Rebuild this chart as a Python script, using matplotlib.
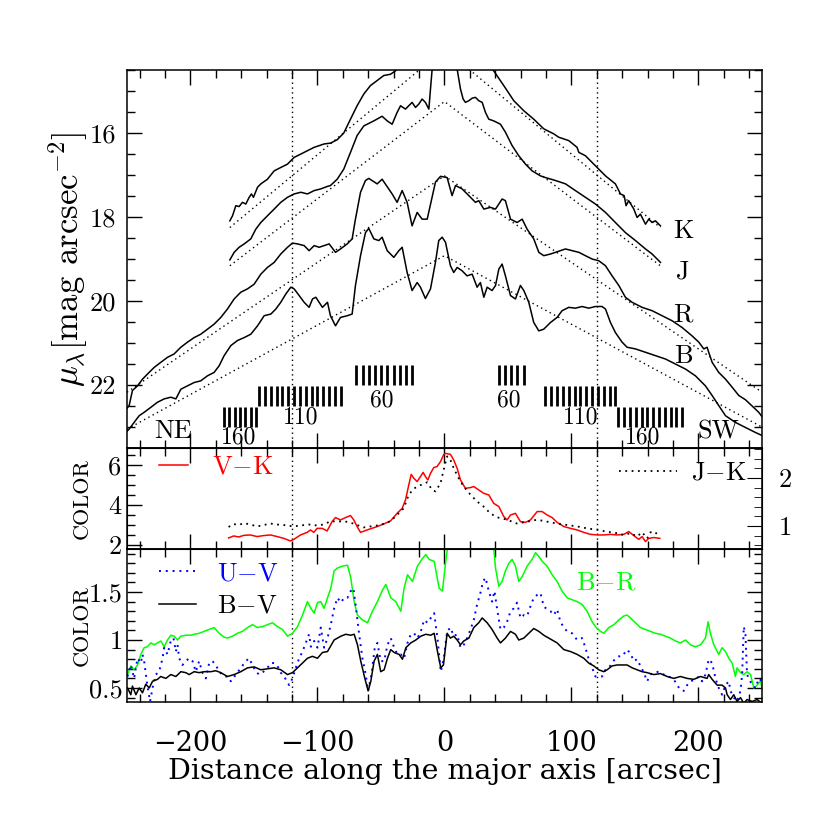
import matplotlib.pyplot as plt
from matplotlib.ticker import MultipleLocator

plt.rcParams['font.family'] = 'serif'
plt.rcParams['font.serif'] = ['cmr10']
plt.rcParams['mathtext.fontset'] = 'cm'
plt.rcParams['axes.formatter.use_mathtext'] = False

# ---- surface brightness profiles (mag arcsec^-2) ----
k_x = [-169.0, -166.9, -164.3, -161.7, -159.1, -156.4, -153.8, -152.0, -150.4, -147.2, -144.6, -139.4,
       -134.1, -128.9, -123.6, -118.4, -113.1, -107.9, -102.6, -94.8, -89.8, -84.5, -79.3, -74.0, -68.8,
       -63.5, -58.3, -53.0, -47.8, -42.5, -38.6, -30, -15, 0, 15, 30, 38.8, 46.7, 54.6, 62.5, 70.3, 78.2,
       86.1, 90.0, 97.9, 104.4, 105.8, 111.0, 118.9, 126.8, 134.6, 138.6, 141.5, 143.0, 145.1, 149.1,
       151.7, 154.3, 158.3, 160.9, 163.5, 166.1, 170.1]
k_mu = [18.09, 17.97, 17.73, 17.75, 17.65, 17.69, 17.53, 17.45, 17.53, 17.29, 17.21, 17.10,
        16.90, 16.82, 16.74, 16.58, 16.50, 16.42, 16.34, 16.26, 16.24, 16.16, 16.00, 15.67, 15.35,
        15.07, 14.87, 14.75, 14.63, 14.60, 14.52, 14.2, 13.8, 13.6, 13.8, 14.2, 14.52, 14.87, 15.23, 15.47,
        15.67, 15.90, 16.02, 16.10, 16.18, 16.34, 16.46, 16.54, 16.78, 17.02, 17.21, 17.45, 17.49, 17.73,
        17.61, 17.81, 18.01, 17.93, 18.17, 18.05, 18.13, 18.09, 18.21]

j_x = [-169.0, -165.6, -161.7, -157.7, -152.5, -148.6, -144.6, -139.4, -134.1, -128.9, -123.6, -118.4,
       -113.1, -107.9, -102.6, -97.4, -92.1, -89.8, -84.5, -79.3, -74.0, -68.8, -63.5, -55.6, -49.1,
       -45.1, -41.2, -37.3, -34.6, -30.7, -28.1, -25.5, -22.8, -20.2, -17.6, -15.0, -12.3, -11.0, -9.7,
       -5, 0, 5, 10.0, 12.6, 14.7, 16.5, 19.2, 21.8, 24.4, 27.0, 29.7, 32.3, 34.9, 38.8, 44.1, 48.0, 53.3,
       58.5, 63.8, 69.0, 75.6, 79.5, 87.4, 95.3, 103.1, 111.0, 118.9, 126.8, 134.6, 142.5, 150.4, 158.3,
       163.5, 170.1]
j_mu = [19.02, 18.84, 18.72, 18.64, 18.52, 18.29, 18.13, 17.97, 17.81, 17.65, 17.53, 17.45,
        17.41, 17.45, 17.37, 17.33, 17.27, 17.25, 17.10, 16.86, 16.46, 16.06, 15.83, 15.71, 15.60,
        15.71, 15.79, 15.51, 15.35, 15.43, 15.35, 15.27, 15.39, 15.31, 15.19, 15.27, 15.43, 14.95, 14.48,
        13.9, 13.6, 13.9, 14.48, 14.95, 15.19, 15.27, 15.23, 15.17, 15.15, 15.23, 15.27, 15.51, 15.67,
        15.71, 15.79, 15.98, 16.30, 16.54, 16.74, 16.90, 17.02, 17.06, 17.13, 17.21, 17.37, 17.53, 17.69,
        17.89, 18.13, 18.37, 18.56, 18.76, 18.88, 19.08]

r_x = [-250.0, -248.3, -245.7, -241.7, -237.8, -233.9, -228.6, -223.4, -218.1, -212.9, -207.6, -202.4,
       -197.1, -191.9, -186.6, -181.4, -176.1, -170.9, -165.6, -160.4, -155.1, -149.9, -144.6, -139.4,
       -134.1, -128.9, -123.6, -119.7, -115.7, -110.5, -106.6, -102.6, -98.7, -94.8, -90.8, -85.8, -81.9,
       -76.6, -72.7, -70.1, -66.1, -62.2, -59.6, -53.0, -49.1, -41.2, -37.3, -33.3, -29.4, -25.5, -21.5,
       -17.6, -13.6, -7.1, -3.1, 2.1, 6.0, 8.7, 13.9, 20.5, 24.4, 27.0, 31.0, 36.2, 40.2, 45.4, 48.0, 52.0,
       57.2, 61.2, 65.1, 70.3, 74.3, 78.2, 83.5, 91.3, 95.3, 100.5, 105.8, 111.0, 116.3, 121.5, 126.8,
       132.0, 137.3, 142.5, 147.8, 155.6, 163.5, 171.4, 179.3, 187.1, 195.0, 200.3, 204.2, 206.8, 208.1,
       210.8, 216.0, 221.3, 226.5, 231.8, 237.0, 242.3, 247.5, 250.0]
r_mu = [22.55, 22.49, 22.13, 22.02, 21.86, 21.74, 21.58, 21.46, 21.34, 21.26, 21.10, 20.98,
        20.87, 20.79, 20.67, 20.55, 20.39, 20.19, 19.95, 19.79, 19.71, 19.60, 19.36, 19.20,
        19.08, 18.88, 18.72, 18.62, 18.64, 18.68, 18.80, 18.68, 18.72, 18.68, 18.64, 18.84, 18.76,
        18.64, 18.52, 18.05, 17.41, 17.13, 17.08, 17.21, 17.10, 17.45, 17.65, 17.37, 17.65, 18.21, 17.89,
        18.05, 18.05, 17.17, 17.03, 17.06, 17.49, 17.25, 17.33, 17.53, 17.65, 17.61, 17.81, 17.77, 17.81,
        17.57, 17.61, 18.05, 18.13, 18.05, 18.29, 18.52, 18.84, 18.92, 18.88, 18.80, 18.76, 18.80, 18.84,
        18.92, 19.00, 19.04, 19.16, 19.40, 19.63, 19.91, 20.03, 20.15, 20.23, 20.35, 20.47, 20.63, 20.83,
        20.98, 21.14, 21.10, 21.22, 21.46, 21.70, 21.86, 22.05, 22.25, 22.35, 22.50, 22.65, 22.75]

b_x = [-250.0, -248.3, -244.4, -240.4, -236.5, -231.2, -226.0, -220.7, -215.5, -211.5, -207.6, -202.4,
       -197.1, -191.9, -186.6, -181.4, -177.4, -173.5, -168.2, -163.0, -157.7, -152.5, -147.2, -142.0,
       -136.7, -132.8, -128.9, -124.9, -121.0, -118.4, -114.4, -110.5, -106.6, -103.9, -101.3, -98.7,
       -96.1, -92.1, -89.8, -85.8, -81.9, -76.6, -72.7, -70.1, -66.1, -62.2, -59.6, -55.6, -51.7, -49.1,
       -45.1, -39.9, -35.9, -33.3, -29.4, -25.5, -21.5, -18.9, -15.0, -11.0, -7.1, -4.5, -1.8, 0.8, 4.7,
       7.3, 10.0, 13.9, 17.8, 21.8, 25.7, 28.3, 31.0, 33.6, 37.5, 40.2, 42.8, 45.4, 48.0, 52.0, 55.9, 59.8,
       62.5, 66.4, 70.3, 74.3, 78.2, 83.5, 88.7, 92.6, 97.9, 103.1, 108.4, 113.6, 118.9, 124.1, 126.8,
       130.7, 134.6, 139.9, 143.8, 150.4, 158.3, 166.1, 174.0, 181.9, 189.8, 197.6, 205.5, 210.8, 216.0,
       221.3, 229.1, 237.0, 244.9, 250.0]
b_mu = [23.10, 23.05, 22.89, 22.73, 22.65, 22.53, 22.41, 22.33, 22.29, 22.33, 22.10, 22.02,
        21.94, 21.90, 21.78, 21.70, 21.54, 21.30, 21.06, 20.94, 20.87, 20.79, 20.59, 20.35,
        20.31, 20.19, 20.03, 19.83, 19.67, 19.71, 19.87, 20.03, 20.15, 19.95, 19.91, 20.03,
        20.15, 20.03, 20.35, 20.59, 20.39, 20.35, 20.31, 19.63, 18.92, 18.37, 18.27, 18.52, 18.56, 18.48,
        18.80, 18.96, 18.80, 18.72, 19.32, 19.75, 19.56, 19.67, 19.94, 19.71, 19.08, 18.56, 18.48, 18.60,
        19.16, 19.32, 19.20, 19.28, 19.40, 19.36, 19.67, 19.56, 19.91, 19.67, 19.75, 19.63, 19.24, 19.12,
        19.40, 19.87, 19.95, 19.63, 19.75, 20.03, 20.51, 20.71, 20.67, 20.51, 20.39, 20.23, 20.15, 20.17,
        20.13, 20.17, 20.13, 20.13, 20.19, 20.51, 20.75, 20.98, 21.10, 21.14, 21.22, 21.30, 21.38, 21.50,
        21.62, 21.78, 22.02, 22.25, 22.49, 22.73, 22.89, 23.01, 23.13, 23.20]

# exponential disk fits (straight lines in magnitudes)
k_fit_x = [-169, 0, 170]
k_fit = [18.25, 14.0, 18.25]
j_fit_x = [-169, 0, 170]
j_fit = [19.16, 15.25, 19.16]
r_fit_x = [-250, 0, 250]
r_fit = [22.17, 17.02, 22.17]
b_fit_x = [-250, 0, 250]
b_fit = [23.05, 18.92, 23.0]

# velocity markers
bars_160_l = [-173.5, -169.3, -165.2, -161.0, -156.9, -152.7, -148.6]
bars_110_l = [-145.9, -141.3, -136.7, -132.1, -127.6, -123.0, -118.4, -113.8, -109.2, -104.6,
              -100.1, -95.5, -90.9, -86.3, -81.7]
bars_60_l = [-69.3, -64.4, -59.5, -54.7, -49.8, -44.9, -40.0, -35.1, -30.3, -25.4]
bars_60_r = [42.8, 47.7, 52.6, 57.5, 62.4]
bars_110_r = [79.5, 84.1, 88.7, 93.3, 97.9, 102.5, 107.1, 111.6, 116.2, 120.8, 125.4, 130.0, 134.6]
bars_160_r = [137.0, 141.6, 146.1, 150.7, 155.3, 159.8, 164.4, 168.9, 173.5, 178.1, 182.6, 187.2]

# ---- colour profiles ----
vk_x = [-170, -166, -162, -158, -152.8, -147.5, -142.3, -137.0, -131.8, -126.5, -121.3, -118.6,
        -113.4, -108.1, -105.5, -102.9, -100.3, -96.3, -92.4, -88.5, -85.8, -81.9, -77.9, -74.0, -71.4,
        -68.8, -66.1, -60.9, -53.0, -47.8, -42.5, -37.3, -33.3, -30.7, -28.1, -26.2, -24.1, -21.5, -18.9,
        -16.8, -15.0, -13.1, -11.0, -8.4, -5.8, -3.1, -0.5, 0.8, 4.7, 7.3, 10.0, 12.6, 16.5, 20.5, 23.1,
        27.0, 31.0, 34.9, 38.8, 42.8, 46.7, 49.3, 52.0, 55.9, 59.8, 63.8, 67.7, 73.0, 76.9, 80.8, 84.8,
        88.7, 94.0, 99.2, 104.5, 109.7, 115.0, 120.2, 125.5, 130.7, 136.0, 141.2, 145.1, 149.1, 153.0,
        155.6, 158.3, 160.9, 164.8, 169.6]
vk = [2.35, 2.45, 2.40, 2.48, 2.50, 2.42, 2.47, 2.50, 2.42, 2.33, 2.20, 2.28,
      2.50, 2.63, 2.75, 2.63, 2.83, 2.83, 2.70, 3.17, 3.37, 3.25, 3.37, 3.47, 3.25,
      2.92, 2.63, 2.75, 2.92, 3.05, 3.20, 3.58, 3.83, 4.25, 5.00, 5.53, 5.33, 5.17, 5.42,
      5.63, 5.42, 5.25, 5.58, 5.87, 5.92, 6.17, 6.53, 6.58, 6.53, 6.25, 5.83, 5.25, 4.83, 4.87, 4.92,
      4.75, 4.58, 4.50, 4.08, 3.92, 3.42, 3.25, 3.50, 3.58, 3.17, 3.13, 3.25, 3.67, 3.67, 3.50, 3.37,
      3.13, 2.92, 2.83, 2.75, 2.63, 2.53, 2.50, 2.50, 2.53, 2.50, 2.53, 2.67, 2.47, 2.28,
      2.42, 2.17, 2.33, 2.37, 2.33]

jk_x = [-170, -166, -162, -158, -152.8, -147.5, -142.3, -137.0, -131.8, -126.5, -119.1, -113.4,
        -106.8, -100.3, -95.0, -89.8, -84.5, -79.3, -74.0, -68.8, -63.5, -58.3, -50.4, -42.5, -37.3,
        -32.0, -28.1, -24.1, -18.9, -13.6, -9.7, -7.1, -3.1, 0.3, 2.1, 4.2, 7.3, 11.3, 15.2, 20.5, 25.7,
        31.0, 36.2, 41.5, 49.3, 57.2, 65.1, 73.0, 80.8, 88.7, 96.6, 104.5, 112.3, 120.2, 128.1, 136.0,
        141.2, 146.5, 151.7, 155.6, 159.6, 162.2, 166.1, 168.8]
jk = [0.98, 1.04, 1.02, 1.06, 1.03, 0.99, 1.02, 1.05, 1.03, 1.02, 0.99, 1.01,
      1.03, 1.01, 1.03, 1.10, 1.09, 1.10, 1.07, 1.02, 0.97, 0.99, 1.02, 1.10, 1.23,
      1.37, 1.65, 1.78, 1.85, 1.91, 1.75, 1.72, 1.89, 2.27, 2.45, 2.41, 2.20, 1.99, 1.82, 1.65, 1.51,
      1.40, 1.26, 1.18, 1.13, 1.05, 1.09, 1.13, 1.09, 1.05, 1.02, 0.99, 0.95, 0.92, 0.88, 0.85,
      0.81, 0.85, 0.78, 0.87, 0.74, 0.87, 0.83, 0.92]

bv_x = [-249.6, -247.0, -245.7, -243.0, -240.4, -237.8, -235.2, -232.5, -229.9, -226.0, -223.4, -219.4,
        -215.5, -211.5, -207.6, -203.7, -201.0, -197.1, -193.2, -189.2, -184.0, -180.1, -176.1, -170.9,
        -165.6, -160.4, -155.1, -149.9, -144.6, -139.4, -134.1, -128.9, -123.6, -119.7, -115.7, -111.8,
        -107.9, -104.0, -100.0, -96.1, -92.1, -86.9, -81.6, -77.7, -73.8, -71.1, -68.5, -65.9, -62.7,
        -60.1, -58.0, -55.4, -52.8, -50.2, -47.5, -44.9, -42.3, -39.6, -35.7, -33.1, -30.4, -26.5, -22.6,
        -18.6, -14.7, -10.8, -8.1, -5.5, -2.9, -0.8, 1.0, 2.1, 4.7, 7.3, 10.0, 12.6, 15.2, 19.2, 23.1,
        27.0, 29.7, 33.6, 37.5, 41.5, 44.1, 48.0, 52.0, 55.9, 58.5, 62.5, 66.4, 70.3, 74.3, 78.2, 83.5,
        88.7, 94.0, 99.2, 104.5, 109.7, 113.6, 117.6, 121.5, 125.5, 128.1, 132.0, 136.0, 139.9, 143.8,
        147.8, 151.7, 155.6, 159.6, 164.8, 170.1, 175.3, 180.6, 185.8, 191.1, 196.3, 201.6, 206.8, 208.1,
        210.8, 214.7, 218.6, 221.3, 222.6, 225.2, 227.8, 230.4, 233.1, 235.7, 238.3, 242.3, 246.2, 250.1]
bv = [0.50, 0.43, 0.52, 0.43, 0.50, 0.45, 0.54, 0.50, 0.57, 0.59, 0.62, 0.60,
      0.64, 0.62, 0.67, 0.66, 0.64, 0.67, 0.66, 0.67, 0.67, 0.68, 0.66, 0.62,
      0.64, 0.67, 0.71, 0.72, 0.69, 0.70, 0.71, 0.69, 0.64, 0.66, 0.71, 0.76,
      0.81, 0.83, 0.81, 0.87, 0.88, 1.00, 1.04, 1.06, 1.05, 1.06, 0.95, 0.78, 0.60,
      0.47, 0.57, 0.78, 0.85, 0.67, 0.69, 0.81, 0.90, 0.87, 0.85, 0.80, 0.92, 0.97, 1.00,
      1.04, 1.06, 1.05, 1.07, 0.88, 0.71, 0.74, 0.95, 1.07, 1.02, 1.04, 1.00, 0.95, 0.99, 1.02, 1.13,
      1.18, 1.23, 1.18, 1.11, 1.02, 0.97, 1.02, 1.09, 1.06, 1.00, 1.02, 1.07, 1.12, 1.09, 1.05, 1.01,
      0.97, 0.90, 0.88, 0.85, 0.81, 0.76, 0.73, 0.69, 0.67, 0.69, 0.73, 0.74, 0.74, 0.74,
      0.71, 0.69, 0.67, 0.66, 0.64, 0.65, 0.62, 0.60, 0.62, 0.60, 0.59, 0.62, 0.60, 0.64,
      0.59, 0.53, 0.53, 0.50, 0.43, 0.38, 0.43, 0.36, 0.40, 0.34, 0.38, 0.36, 0.38, 0.34]

br_x = [-249.6, -247.0, -244.4, -241.7, -239.1, -236.5, -233.9, -231.2, -228.6, -226.0, -223.4, -220.7,
        -218.1, -215.5, -212.9, -210.2, -207.6, -203.7, -199.7, -197.1, -193.2, -189.2, -185.3, -181.4,
        -177.4, -173.5, -170.9, -166.9, -163.0, -159.1, -155.1, -151.2, -147.2, -143.3, -139.4, -135.4,
        -131.5, -127.6, -123.6, -119.7, -115.7, -111.8, -107.9, -105.2, -102.6, -100.0, -97.4, -94.8,
        -92.1, -89.5, -86.9, -84.3, -80.3, -76.4, -73.8, -71.1, -68.5, -64.6, -60.6, -56.7, -52.8, -48.8,
        -46.2, -42.3, -38.3, -34.4, -31.8, -29.1, -25.2, -21.3, -17.3, -14.7, -12.1, -8.1, -4.2, -1.6,
        1.0, 2.4, 10, 25, 36, 38.8, 40.2, 42.8, 45.4, 48.0, 50.7, 53.3, 55.9, 58.5, 61.2, 65.1, 69.0,
        71.7, 74.3, 76.9, 80.8, 84.8, 88.7, 92.6, 96.6, 100.5, 104.5, 108.4, 112.3, 116.3, 118.9, 122.8,
        125.5, 129.4, 133.4, 137.3, 141.2, 143.8, 146.5, 150.4, 154.3, 158.3, 162.2, 166.1, 170.1, 174.0,
        178.0, 181.9, 185.8, 189.8, 193.7, 197.6, 201.6, 205.5, 207.6, 209.4, 212.1, 216.0, 218.6, 221.3,
        223.9, 226.5, 229.1, 230.4, 233.1, 235.7, 238.3, 241.0, 243.6, 246.2, 248.8, 250.1]
br = [0.64, 0.73, 0.69, 0.74, 0.85, 0.92, 0.93, 0.97, 0.95, 0.97, 0.99, 0.93,
      1.00, 1.05, 1.04, 1.00, 1.04, 1.05, 1.05, 1.06, 1.07, 1.09, 1.11, 1.13,
      1.07, 1.03, 1.02, 1.04, 1.07, 1.09, 1.13, 1.16, 1.13, 1.14, 1.16, 1.18,
      1.14, 1.11, 1.04, 1.07, 1.14, 1.26, 1.40, 1.33, 1.28, 1.39, 1.40, 1.33,
      1.44, 1.54, 1.72, 1.75, 1.77, 1.78, 1.65, 1.40, 1.26, 1.21, 1.18, 1.30, 1.40, 1.52,
      1.58, 1.44, 1.40, 1.30, 1.54, 1.68, 1.61, 1.77, 1.85, 1.89, 1.84, 1.82, 1.54, 1.51,
      1.82, 1.96, 2.10, 2.10, 2.05, 1.96, 1.75, 1.56, 1.61, 1.72, 1.80, 1.84, 1.77, 1.61, 1.66, 1.77, 1.84,
      1.91, 1.87, 1.82, 1.77, 1.68, 1.61, 1.51, 1.44, 1.42, 1.40, 1.37, 1.30, 1.19, 1.14, 1.09,
      1.07, 1.13, 1.16, 1.21, 1.25, 1.26, 1.23, 1.18, 1.13, 1.11, 1.09, 1.07, 1.06, 1.04,
      1.02, 0.99, 0.97, 1.00, 0.95, 0.93, 0.95, 1.02, 1.19, 1.07, 0.95, 0.85, 0.92, 0.88,
      0.81, 0.76, 0.62, 0.71, 0.66, 0.64, 0.67, 0.64, 0.50, 0.53, 0.57, 0.50]

uv_x = [-249.6, -247.0, -244.4, -241.7, -239.1, -237.8, -236.5, -233.9, -231.8, -229.9, -227.3, -224.7,
        -222.0, -220.7, -218.1, -215.5, -213.4, -211.5, -210.2, -208.9, -206.3, -203.7, -201.0, -198.4,
        -195.8, -193.2, -190.6, -187.9, -185.3, -182.7, -180.1, -177.4, -173.5, -170.9, -168.2, -164.3,
        -160.4, -156.4, -153.8, -151.2, -148.6, -145.9, -143.3, -139.4, -136.7, -134.1, -131.5, -128.9,
        -124.9, -122.3, -119.7, -117.1, -114.4, -111.8, -109.2, -106.6, -105.2, -102.6, -100.0, -97.4,
        -94.8, -92.1, -89.5, -86.9, -84.3, -81.6, -79.0, -76.4, -73.8, -71.7, -69.8, -67.2, -64.6, -62.0,
        -60.1, -57.5, -54.9, -52.8, -50.2, -47.5, -44.9, -42.3, -39.6, -37.0, -34.4, -31.8, -29.1, -26.5,
        -23.9, -21.3, -18.6, -16.0, -13.4, -10.8, -8.1, -5.5, -2.9, -0.5, 2.1, 4.7, 7.3, 10.0, 12.6, 15.2,
        17.8, 20.5, 23.1, 25.7, 28.3, 30.4, 32.3, 34.9, 37.5, 39.4, 41.5, 44.1, 46.7, 49.3, 52.0, 54.6,
        57.2, 59.8, 62.5, 65.1, 67.7, 70.3, 73.0, 75.6, 78.2, 80.8, 83.5, 86.1, 88.7, 91.3, 94.0, 96.6,
        100.5, 104.5, 108.4, 111.0, 113.6, 116.3, 118.9, 121.5, 124.1, 126.8, 129.4, 132.0, 134.6, 137.3,
        139.9, 143.8, 146.5, 149.1, 151.7, 154.3, 157.0, 159.6, 162.2, 164.8, 168.8, 172.7, 176.6, 180.6,
        183.2, 185.8, 188.5, 191.1, 193.7, 197.6, 200.3, 202.9, 205.5, 208.1, 210.8, 213.4, 216.0, 218.6,
        221.3, 223.9, 225.2, 227.8, 230.4, 233.1, 234.4, 235.7, 237.0, 238.3, 242.3, 244.9, 247.5, 250.1]
uv = [0.62, 0.74, 0.60, 0.81, 0.76, 0.85, 0.78, 0.52, 0.36, 0.50, 0.64, 0.67,
      0.81, 0.92, 0.85, 0.99, 1.02, 0.88, 0.95, 0.81, 0.74, 0.78, 0.81, 0.78,
      0.67, 0.78, 0.66, 0.60, 0.76, 0.78, 0.74, 0.67, 0.62, 0.62, 0.57, 0.64,
      0.71, 0.78, 0.81, 0.74, 0.67, 0.64, 0.66, 0.71, 0.76, 0.76, 0.73, 0.66,
      0.59, 0.53, 0.60, 0.71, 0.81, 0.88, 0.97, 1.06, 0.93, 0.99, 0.92, 1.13,
      0.92, 1.02, 1.16, 1.33, 1.44, 1.39, 1.44, 1.44, 1.51, 1.54, 1.35, 1.06, 0.81, 0.64,
      0.47, 0.64, 0.92, 0.97, 0.78, 0.78, 0.95, 1.02, 0.92, 0.85, 0.85, 0.81, 0.97, 1.06,
      1.07, 1.02, 1.09, 1.21, 1.18, 1.23, 1.28, 1.02, 0.67, 0.81, 1.09, 1.13, 1.04, 1.06, 0.92, 0.95,
      1.02, 1.11, 1.21, 1.37, 1.49, 1.61, 1.65, 1.51, 1.40, 1.51, 1.32, 1.11, 1.13, 1.19, 1.30, 1.33,
      1.39, 1.23, 1.26, 1.25, 1.35, 1.44, 1.47, 1.49, 1.35, 1.32, 1.30, 1.26, 1.32, 1.19, 1.13, 1.09,
      1.07, 1.00, 1.02, 0.92, 0.80, 0.71, 0.62, 0.62, 0.62, 0.69, 0.71, 0.76, 0.81, 0.83,
      0.83, 0.90, 0.86, 0.78, 0.80, 0.73, 0.66, 0.57, 0.64, 0.66, 0.67, 0.64, 0.62, 0.59,
      0.53, 0.48, 0.47, 0.53, 0.57, 0.59, 0.62, 0.57, 0.64, 0.80, 0.76, 0.60, 0.50, 0.43,
      0.53, 0.57, 0.47, 0.40, 0.36, 0.47, 0.64, 1.14, 1.06, 0.64, 0.53, 0.50, 0.60, 0.57]

dot = (0, (1, 2.5))
wide_font = 'DejaVu Serif'

fig = plt.figure(figsize=(8.3, 8.3), dpi=100)
ax1 = fig.add_axes([0.153, 0.4602, 0.765, 0.4554])
ax2 = fig.add_axes([0.153, 0.3386, 0.765, 0.1217])
ax3 = fig.add_axes([0.153, 0.1542, 0.765, 0.1843])


def style(ax, ypad=6):
    ax.set_xlim(-250, 250)
    ax.xaxis.set_major_locator(MultipleLocator(100))
    ax.xaxis.set_minor_locator(MultipleLocator(20))
    ax.tick_params(which='both', direction='in', top=True, right=True)
    ax.tick_params(axis='x', pad=20, labelsize=19.5, labelfontfamily=wide_font)
    ax.tick_params(axis='y', pad=ypad, labelsize=19, labelfontfamily='cmr10')
    ax.tick_params(which='major', length=11, width=1)
    ax.tick_params(which='minor', length=6, width=1)
    for s in ax.spines.values():
        s.set_linewidth(1.1)
    ax.axvline(-120, color='k', ls=dot, lw=1)
    ax.axvline(120, color='k', ls=dot, lw=1)


# top panel: surface brightness
style(ax1, ypad=8)
ax1.set_ylim(23.5, 14.5)
ax1.yaxis.set_major_locator(MultipleLocator(2))
ax1.yaxis.set_minor_locator(MultipleLocator(0.5))
ax1.tick_params(labelbottom=False)
for x, y in [(k_x, k_mu), (j_x, j_mu), (r_x, r_mu), (b_x, b_mu)]:
    ax1.plot(x, y, color='k', lw=1.1)
for x, y in [(k_fit_x, k_fit), (j_fit_x, j_fit), (r_fit_x, r_fit), (b_fit_x, b_fit)]:
    ax1.plot(x, y, color='k', ls=dot, lw=1)
for name, y in [('K', 18.33), ('J', 19.31), ('R', 20.33), ('B', 21.31)]:
    ax1.text(188, y, name, fontsize=19, ha='center', va='center')

ax1.vlines(bars_160_l + bars_160_r, 22.52, 23.0, color='k', lw=2)
ax1.vlines(bars_110_l + bars_110_r, 22.02, 22.51, color='k', lw=2)
ax1.vlines(bars_60_l + bars_60_r, 21.52, 22.0, color='k', lw=2)
for xt, yt, s in [(-161.7, 23.24, '160'), (-113.4, 22.76, '110'), (-49, 22.37, '60'),
                  (50.4, 22.37, '60'), (107, 22.76, '110'), (155.7, 23.24, '160')]:
    ax1.text(xt, yt, s, fontsize=17, ha='center', va='center')
ax1.text(-214, 23.1, 'NE', fontsize=19, ha='center', va='center')
ax1.text(216, 23.12, 'SW', fontsize=19, ha='center', va='center')
ax1.set_ylabel(r'$\mu_\lambda$[mag arcsec$^{-2}$]', fontsize=25)
ax1.yaxis.set_label_coords(-0.058, 0.5)

# middle panel: V-K and J-K
style(ax2, ypad=4)
ax2.set_ylim(1.8, 6.85)
ax2.set_yticks([2, 4, 6])
ax2.yaxis.set_minor_locator(MultipleLocator(0.5))
ax2.tick_params(labelbottom=False, right=False, which='both')
l_vk, = ax2.plot(vk_x, vk, color='#ff0000', lw=1.1)
ax2b = ax2.twinx()
ax2b.set_xlim(-250, 250)
ax2b.set_ylim(0.521, 2.625)
ax2b.set_yticks([1, 2])
ax2b.yaxis.set_minor_locator(MultipleLocator(0.2))
ax2b.tick_params(which='both', direction='in', left=False, right=True, labelsize=19, pad=12,
                 labelfontfamily='cmr10')
ax2b.tick_params(which='major', length=11)
ax2b.tick_params(which='minor', length=6)
l_jk, = ax2b.plot(jk_x, jk, color='k', ls=dot, lw=1.3)
ax2.set_ylabel('COLOR', fontsize=16)
ax2.yaxis.set_label_coords(-0.056, 0.5)
leg_jk = ax2b.legend([l_jk], [r'J$-$K'], loc='upper right', bbox_to_anchor=(0.975, 0.87),
                     frameon=False, fontsize=19, labelcolor='linecolor', handlelength=2.2,
                     handletextpad=0.5, borderaxespad=0, borderpad=0)
ax2b.add_artist(leg_jk)
ax2b.legend([l_vk], [r'V$-$K'], loc='upper left', bbox_to_anchor=(0.05, 0.93), frameon=False,
            fontsize=19, labelcolor='linecolor', handlelength=1.1, handletextpad=0.9,
            borderaxespad=0, borderpad=0)

# bottom panel: U-V, B-V, B-R
style(ax3, ypad=3)
ax3.set_ylim(0.354, 1.948)
ax3.set_yticks([0.5, 1, 1.5])
ax3.set_yticklabels(['0.5', '1', '1.5'])
ax3.yaxis.set_minor_locator(MultipleLocator(0.1))
ax3.set_xticks([-200, -100, 0, 100, 200])
ax3.set_xticklabels(['\u2212200', '\u2212100', '0', '100', '200'])
ax3.plot(br_x, br, color='#00ff00', lw=1.1)
l_uv, = ax3.plot(uv_x, uv, color='#0000ff', ls=dot, lw=1.4)
l_bv, = ax3.plot(bv_x, bv, color='k', lw=1.1)
ax3.legend([l_uv, l_bv], [r'U$-$V', r'B$-$V'], loc='upper left', bbox_to_anchor=(0.05, 0.92),
           frameon=False, fontsize=19, labelcolor='linecolor', handlelength=1.4, handletextpad=0.8,
           labelspacing=0.35, borderaxespad=0, borderpad=0)
ax3.text(127.6, 1.6, r'B$-$R', color='#00ff00', fontsize=19, ha='center', va='center')
ax3.set_ylabel('COLOR', fontsize=16)
ax3.yaxis.set_label_coords(-0.056, 0.5)
ax3.set_xlabel('Distance along the major axis [arcsec]', fontsize=20.5, fontfamily=wide_font,
               labelpad=1)

fig.savefig('out.png', dpi=100)
